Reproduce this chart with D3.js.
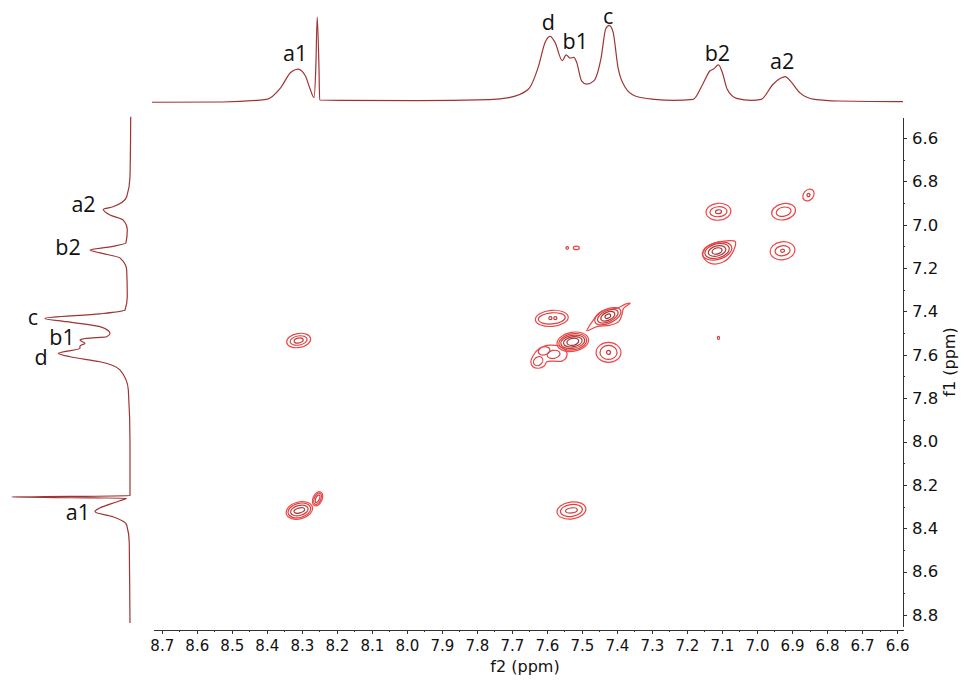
<!DOCTYPE html>
<html>
<head>
<meta charset="utf-8">
<script src="https://cdn.jsdelivr.net/npm/d3@7"></script>
<style>
body { margin: 0; background: #fff; }
svg { display: block; }
.axis path, .axis line { stroke: #333; shape-rendering: crispEdges; }
.axis text { fill: #111; font-family: "DejaVu Sans", Verdana, sans-serif; }
.peak_label { font-family: "Open Sans", sans-serif; font-size: 21.5px; fill: #111; }
</style>
</head>
<body>
<div id="chart"></div>
<script>
// axis ranges and ticks (ppm)
var f2_range = [8.725, 6.583];
var f1_range = [6.503, 8.851];
var f2_ticks = [8.7, 8.6, 8.5, 8.4, 8.3, 8.2, 8.1, 8.0, 7.9, 7.8, 7.7, 7.6, 7.5, 7.4, 7.3, 7.2, 7.1, 7.0, 6.9, 6.8, 6.7, 6.6];
var f2_minor = [8.65, 8.55, 8.45, 8.35, 8.25, 8.15, 8.05, 7.95, 7.85, 7.75, 7.65, 7.55, 7.45, 7.35, 7.25, 7.15, 7.05, 6.95, 6.85, 6.75, 6.65];
var f1_ticks = [6.6, 6.8, 7.0, 7.2, 7.4, 7.6, 7.8, 8.0, 8.2, 8.4, 8.6, 8.8];
var f1_minor = [6.7, 6.9, 7.1, 7.3, 7.5, 7.7, 7.9, 8.1, 8.3, 8.5, 8.7];

// 1D projection on f2 (top): [ppm, intensity]
var f2_trace = [
   [8.728, -1.5], [8.526, -1.2], [8.401, 2], [8.360, 16], [8.332, 34], [8.311, 38], [8.290, 30], [8.276, 14],
   [8.265, 4], [8.260, 40], [8.256, 100], [8.251, 40], [8.249, 1.2], [8.179, 0.8], [7.972, 0.4], [7.764, 1.6],
   [7.708, 4], [7.653, 14], [7.625, 40], [7.605, 70], [7.591, 77], [7.577, 70], [7.556, 48], [7.545, 55],
   [7.534, 51], [7.523, 52], [7.515, 46], [7.501, 24], [7.487, 20], [7.466, 24], [7.445, 52], [7.432, 86],
   [7.422, 90], [7.411, 82], [7.397, 40], [7.376, 16], [7.348, 6], [7.293, 2], [7.238, 0.8], [7.182, 2],
   [7.155, 20], [7.134, 36], [7.124, 38], [7.110, 43], [7.099, 34], [7.085, 14], [7.058, 3.2], [7.016, 0.8],
   [6.988, 2], [6.954, 20], [6.933, 27], [6.919, 29], [6.905, 24], [6.878, 10], [6.836, 2], [6.767, 0],
   [6.594, -0.8], [6.583, -0.8]
];

// 1D projection on f1 (left): [ppm, intensity]
var f1_trace = [
   [6.502, -0.6], [6.779, 0], [6.871, 2.8], [6.917, 14.4], [6.929, 22.6], [6.955, 16.9], [6.978, 5.9], [7.024, 2.3],
   [7.084, 3.4], [7.102, 16.9], [7.117, 33.8], [7.130, 25.4], [7.153, 8.5], [7.209, 2.8], [7.332, 2.3], [7.393, 4.2],
   [7.411, 25.4], [7.432, 71.9], [7.447, 53.5], [7.470, 25.4], [7.501, 16.9], [7.517, 19.7], [7.524, 36.6], [7.532, 42.3],
   [7.547, 38], [7.559, 42.3], [7.570, 42.3], [7.593, 60.6], [7.609, 50.7], [7.632, 25.4], [7.670, 8.5], [7.762, 1.4],
   [8.007, 0], [8.250, 0], [8.256, 100], [8.262, 3], [8.273, 8.5], [8.324, 29.6], [8.347, 14.4], [8.385, 2.8],
   [8.468, 0.6], [8.837, 0]
];

// peak labels: [text, ppm, intensity]
var f2_labels = [["a1", 8.319, 47.6], ["d", 7.596, 84.5], ["b1", 7.519, 62], ["c", 7.425, 92], ["b2", 7.113, 47.6], ["a2", 6.928, 38]];
var f1_labels = [["a2", 6.941, 39.3], ["b2", 7.140, 52.4], ["c", 7.463, 82], ["b1", 7.555, 57.5], ["d", 7.647, 75.2], ["a1", 8.362, 44]];

// cross peaks: [f2, f1, tilt (deg), rings [width f2, width f1, contour level]]
var cross_peaks = [
   [8.309, 7.534, -10, [[0.069, 0.065, 1], [0.049, 0.042, 2], [0.026, 0.023, 3]]],
   [8.307, 8.318, -15, [[0.077, 0.078, 1], [0.066, 0.065, 2], [0.051, 0.046, 3], [0.031, 0.023, 4]]],
   [8.255, 8.264, -65, [[0.043, 0.042, 1], [0.034, 0.030, 2], [0.023, 0.016, 3]]],
   [7.530, 8.318, -8, [[0.083, 0.078, 1], [0.063, 0.055, 2], [0.034, 0.023, 3]]],
   [7.586, 7.432, -5, [[0.094, 0.074, 1], [0.077, 0.051, 2]]],
   [7.590, 7.431, 0, [[0.009, 0.014, 3]]],
   [7.576, 7.431, 0, [[0.009, 0.014, 3]]],
   [7.426, 7.422, -25, [[0.080, 0.065, 2], [0.063, 0.051, 3], [0.043, 0.037, 4], [0.017, 0.018, 5]]],
   [7.526, 7.540, -10, [[0.091, 0.088, 1], [0.080, 0.074, 2], [0.069, 0.060, 3], [0.054, 0.046, 4], [0.034, 0.032, 5]]],
   [7.424, 7.589, 0, [[0.071, 0.092, 1], [0.049, 0.065, 2], [0.011, 0.018, 3]]],
   [7.608, 7.582, -15, [[0.034, 0.037, 2]]],
   [7.581, 7.598, -10, [[0.037, 0.037, 2]]],
   [7.625, 7.629, -40, [[0.029, 0.037, 2]]],
   [7.114, 7.121, -15, [[0.086, 0.078, 2], [0.071, 0.065, 3], [0.051, 0.046, 4], [0.029, 0.028, 5]]],
   [7.110, 6.940, -5, [[0.071, 0.078, 1], [0.049, 0.046, 2], [0.017, 0.018, 3]]],
   [6.924, 6.940, -12, [[0.069, 0.074, 1], [0.043, 0.042, 2]]],
   [6.853, 6.863, -50, [[0.037, 0.046, 1], [0.009, 0.014, 3]]],
   [6.927, 7.120, -8, [[0.071, 0.083, 1], [0.043, 0.046, 2], [0.011, 0.014, 3]]],
   [7.542, 7.107, 0, [[0.007, 0.012, 2]]],
   [7.516, 7.107, 0, [[0.017, 0.016, 1]]],
   [7.110, 7.522, 0, [[0.006, 0.014, 2]]]
];

// outer contours that are not elliptic: [f2, f1]
var d_outline = [
   [7.591, 7.555], [7.567, 7.558], [7.548, 7.575], [7.543, 7.606], [7.557, 7.629], [7.581, 7.629], [7.600, 7.632],
   [7.608, 7.652], [7.624, 7.662], [7.640, 7.655], [7.646, 7.632], [7.638, 7.601], [7.621, 7.570], [7.605, 7.558]
];
var c_outline = [
   [7.486, 7.489], [7.457, 7.470], [7.419, 7.463], [7.395, 7.447], [7.386, 7.416], [7.381, 7.386], [7.362, 7.362],
   [7.376, 7.366], [7.400, 7.386], [7.429, 7.390], [7.453, 7.409], [7.467, 7.439], [7.481, 7.473]
];
var b2_outline = [
   [7.154, 7.147], [7.133, 7.178], [7.095, 7.171], [7.071, 7.132], [7.062, 7.078], [7.086, 7.074], [7.124, 7.086], [7.148, 7.109]
];

var W = 964, H = 681;
var svg = d3.select("#chart").append("svg").attr("width", W).attr("height", H);

var x = d3.scaleLinear().domain(f2_range).range([153, 903]);
var y = d3.scaleLinear().domain(f1_range).range([117, 626]);
var top_y = d3.scaleLinear().domain([0, 100]).range([101, 17]);
var left_x = d3.scaleLinear().domain([0, 100]).range([130, 11.7]);
var level_color = d3.scaleLinear().domain([1, 5]).range(["#f04646", "#9c3232"]);

function draw_axes() {
   var xg = svg.append("g").attr("class", "axis").attr("transform", "translate(0,630)")
      .call(d3.axisBottom(x).tickValues(f2_ticks).tickFormat(d3.format(".1f")).tickSizeInner(4).tickSizeOuter(0).tickPadding(6));
   xg.selectAll("text").style("font-size", "15px");
   var xm = svg.append("g").attr("class", "axis").attr("transform", "translate(0,630)")
      .call(d3.axisBottom(x).tickValues(f2_minor).tickFormat("").tickSize(2));
   xm.select(".domain").remove();

   var yg = svg.append("g").attr("class", "axis").attr("transform", "translate(903,0)")
      .call(d3.axisRight(y).tickValues(f1_ticks).tickFormat(d3.format(".1f")).tickSizeInner(4).tickSizeOuter(0).tickPadding(5));
   yg.selectAll("text").style("font-size", "16.5px");
   var ym = svg.append("g").attr("class", "axis").attr("transform", "translate(903,0)")
      .call(d3.axisRight(y).tickValues(f1_minor).tickFormat("").tickSize(2));
   ym.select(".domain").remove();

   svg.append("text").attr("x", 525).attr("y", 672).attr("text-anchor", "middle")
      .style("font-family", "DejaVu Sans, Verdana, sans-serif").style("font-size", "16px").style("fill", "#111")
      .text("f2 (ppm)");
   svg.append("text").attr("transform", "translate(955,362) rotate(-90)").attr("text-anchor", "middle")
      .style("font-family", "DejaVu Sans, Verdana, sans-serif").style("font-size", "16px").style("fill", "#111")
      .text("f1 (ppm)");
}

function draw_projections() {
   var top_line = d3.line().x(function(d) { return x(d[0]); }).y(function(d) { return top_y(d[1]); }).curve(d3.curveMonotoneX);
   svg.append("path").datum(f2_trace).attr("d", top_line)
      .attr("fill", "none").attr("stroke", "#9e3434").attr("stroke-width", 1.2);
   var left_line = d3.line().x(function(d) { return left_x(d[1]); }).y(function(d) { return y(d[0]); }).curve(d3.curveMonotoneY);
   svg.append("path").datum(f1_trace).attr("d", left_line)
      .attr("fill", "none").attr("stroke", "#9e3434").attr("stroke-width", 1.2);

   svg.selectAll("text.top_label").data(f2_labels).enter().append("text")
      .attr("class", "peak_label top_label").attr("text-anchor", "middle")
      .attr("x", function(d) { return x(d[1]); }).attr("y", function(d) { return top_y(d[2]); })
      .text(function(d) { return d[0]; });
   svg.selectAll("text.left_label").data(f1_labels).enter().append("text")
      .attr("class", "peak_label left_label").attr("text-anchor", "middle")
      .attr("x", function(d) { return left_x(d[2]); }).attr("y", function(d) { return y(d[1]); })
      .text(function(d) { return d[0]; });
}

function draw_cross_peaks() {
   var g = svg.append("g").attr("class", "contours");
   var px_f2 = Math.abs(x(1) - x(0)), px_f1 = Math.abs(y(1) - y(0));
   cross_peaks.forEach(function(p) {
      var pg = g.append("g").attr("transform", "translate(" + x(p[0]) + "," + y(p[1]) + ") rotate(" + p[2] + ")");
      pg.selectAll("ellipse").data(p[3]).enter().append("ellipse")
         .attr("rx", function(r) { return r[0] * px_f2 / 2; })
         .attr("ry", function(r) { return r[1] * px_f1 / 2; })
         .attr("fill", "none")
         .attr("stroke", function(r) { return level_color(r[2]); })
         .attr("stroke-width", 1.2);
   });
   var outline = d3.line().x(function(d) { return x(d[0]); }).y(function(d) { return y(d[1]); }).curve(d3.curveCatmullRomClosed);
   g.selectAll("path.outline").data([d_outline, c_outline, b2_outline]).enter().append("path")
      .attr("class", "outline").attr("d", outline)
      .attr("fill", "none").attr("stroke", level_color(1)).attr("stroke-width", 1.2);
}

draw_axes();
draw_projections();
draw_cross_peaks();
</script>
</body>
</html>
